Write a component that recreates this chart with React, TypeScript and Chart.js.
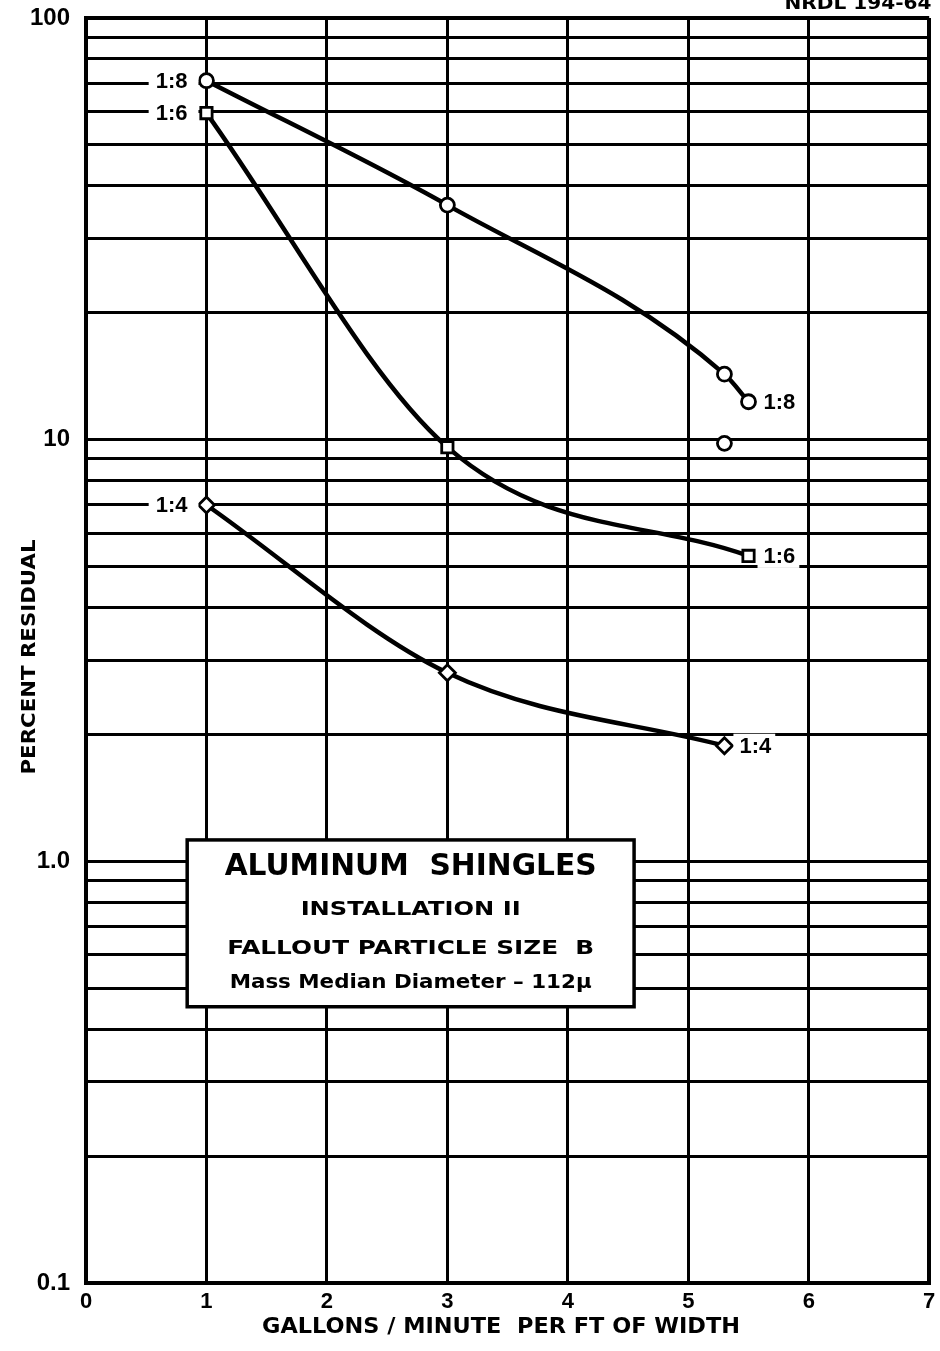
import React, { useEffect, useRef } from "react";
import { Chart, registerables } from "chart.js";

Chart.register(...registerables);

// ---------- data ----------
const xTickValues = [0, 1, 2, 3, 4, 5, 6, 7];
const yTickValues = [
  0.1, 0.2, 0.3, 0.4, 0.5, 0.6, 0.7, 0.8, 0.9,
  1, 2, 3, 4, 5, 6, 7, 8, 9,
  10, 20, 30, 40, 50, 60, 70, 80, 90, 100,
];
const yTickLabels: Record<string, string> = { "0.1": "0.1", "1": "1.0", "10": "10", "100": "100" };

const flow18 = [1, 3, 5.3, 5.5];
const residual18 = [71, 36, 14.3, 12.3];
const flow18Extra = [5.3];
const residual18Extra = [9.8];
const flow16 = [1, 3, 5.5];
const residual16 = [59.5, 9.6, 5.3];
const flow14 = [1, 3, 5.3];
const residual14 = [7.0, 2.8, 1.88];

const seriesNames = ["1:8", "1:6", "1:4"];

const titleLines = [
  "ALUMINUM  SHINGLES",
  "INSTALLATION II",
  "FALLOUT PARTICLE SIZE  B",
  "Mass Median Diameter \u2013 112\u03bc",
];
const xAxisTitle = "GALLONS / MINUTE  PER FT OF WIDTH";
const yAxisTitle = "PERCENT RESIDUAL";
const docId = "NRDL 194-64";

// ---------- layout / style ----------
const W = 940;
const H = 1351;
const FONT = '"DejaVu Sans", "Liberation Sans", sans-serif';
const TICKFONT = '"Liberation Sans", "DejaVu Sans", sans-serif';

const stretchText = (
  ctx: CanvasRenderingContext2D,
  text: string,
  cx: number,
  cy: number,
  width: number,
  font: string,
  rotate = 0
) => {
  ctx.save();
  ctx.font = font;
  ctx.textAlign = "center";
  ctx.textBaseline = "middle";
  ctx.fillStyle = "#000";
  const w = ctx.measureText(text).width;
  ctx.translate(cx, cy);
  if (rotate) ctx.rotate(rotate);
  ctx.scale(width / w, 1);
  ctx.fillText(text, 0, 0);
  ctx.restore();
};

const decorPlugin = {
  id: "decor",
  afterDatasetsDraw(chart: any) {
    const ctx: CanvasRenderingContext2D = chart.ctx;
    const labelFont = `bold 22px ${TICKFONT}`;
    chart.data.datasets.forEach((ds: any, i: number) => {
      if (!ds.seriesLabel) return;
      const pts = chart.getDatasetMeta(i).data;
      const first = pts[0];
      const last = pts[pts.length - 1];
      ctx.save();
      ctx.font = labelFont;
      ctx.textBaseline = "middle";
      const tw = ctx.measureText(ds.seriesLabel).width;
      // left label
      const lr = first.x - 19;
      ctx.fillStyle = "#fff";
      ctx.fillRect(lr - tw - 7, first.y - 12, first.x - 8 - (lr - tw - 7), 24);
      ctx.fillStyle = "#000";
      ctx.textAlign = "right";
      ctx.fillText(ds.seriesLabel, lr, first.y + 1);
      // right label
      const ll = last.x + 15;
      ctx.fillStyle = "#fff";
      ctx.fillRect(last.x + 9, last.y - 12, tw + 10, 24);
      ctx.fillStyle = "#000";
      ctx.textAlign = "left";
      ctx.fillText(ds.seriesLabel, ll, last.y + 1);
      ctx.restore();
    });
  },
  afterDraw(chart: any) {
    const ctx: CanvasRenderingContext2D = chart.ctx;
    const xs = chart.scales.x;
    const ys = chart.scales.y;
    const area = chart.chartArea;

    // title box
    const bl = xs.getPixelForValue(0.84);
    const br = xs.getPixelForValue(4.55);
    const bt = ys.getPixelForValue(1.124);
    const bb = ys.getPixelForValue(0.452);
    ctx.save();
    ctx.fillStyle = "#fff";
    ctx.fillRect(bl, bt, br - bl, bb - bt);
    ctx.strokeStyle = "#000";
    ctx.lineWidth = 3.5;
    ctx.strokeRect(bl, bt, br - bl, bb - bt);
    ctx.restore();
    const cx = (bl + br) / 2;
    const bh = bb - bt;
    stretchText(ctx, titleLines[0], cx, bt + bh * 0.16, 372, `bold 31px ${FONT}`);
    stretchText(ctx, titleLines[1], cx, bt + bh * 0.42, 220, `bold 20px ${FONT}`);
    stretchText(ctx, titleLines[2], cx, bt + bh * 0.65, 367, `bold 20px ${FONT}`);
    stretchText(ctx, titleLines[3], cx, bt + bh * 0.86, 362, `bold 19px ${FONT}`);

    // axis titles
    stretchText(ctx, xAxisTitle, 501, area.bottom + 44, 478, `bold 22px ${FONT}`);
    stretchText(ctx, yAxisTitle, 30, 657, 235, `bold 20px ${FONT}`, -Math.PI / 2);

    // document id
    stretchText(ctx, docId, 858, 5, 147, `bold 17px ${FONT}`);
  },
};

export default function App() {
  const canvasRef = useRef<HTMLCanvasElement | null>(null);

  useEffect(() => {
    if (!canvasRef.current) return;
    const lineCommon = {
      borderColor: "#000",
      borderWidth: 4.5,
      pointBorderColor: "#000",
      pointBackgroundColor: "#fff",
      pointBorderWidth: 2.8,
      cubicInterpolationMode: "monotone" as const,
    };
    const chart = new Chart(canvasRef.current, {
      type: "line",
      data: {
        datasets: [
          {
            ...lineCommon,
            label: seriesNames[0],
            seriesLabel: seriesNames[0],
            data: flow18.map((x, i) => ({ x, y: residual18[i] })),
            pointStyle: "circle",
            pointRadius: 7,
          } as any,
          {
            ...lineCommon,
            label: seriesNames[0] + " (repeat)",
            data: flow18Extra.map((x, i) => ({ x, y: residual18Extra[i] })),
            showLine: false,
            pointStyle: "circle",
            pointRadius: 7,
          } as any,
          {
            ...lineCommon,
            label: seriesNames[1],
            seriesLabel: seriesNames[1],
            data: flow16.map((x, i) => ({ x, y: residual16[i] })),
            pointStyle: "rect",
            pointRadius: 8,
          } as any,
          {
            ...lineCommon,
            label: seriesNames[2],
            seriesLabel: seriesNames[2],
            data: flow14.map((x, i) => ({ x, y: residual14[i] })),
            pointStyle: "rectRot",
            pointRadius: 8,
          } as any,
        ],
      },
      options: {
        animation: false,
        responsive: false,
        devicePixelRatio: 1,
        layout: { padding: { left: 0, top: 18, right: 10, bottom: 0 } },
        plugins: {
          legend: { display: false },
          tooltip: { enabled: false },
        },
        scales: {
          x: {
            type: "linear",
            min: 0,
            max: 7,
            afterBuildTicks: (scale: any) => {
              scale.ticks = xTickValues.map((v) => ({ value: v }));
            },
            afterFit: (scale: any) => {
              scale.height = 68;
              scale.paddingLeft = 0;
              scale.paddingRight = 0;
            },
            ticks: {
              autoSkip: false,
              maxRotation: 0,
              padding: 6,
              color: "#000",
              font: { family: TICKFONT, size: 22, weight: "bold" },
              callback: (v: any) => String(v),
            },
            grid: {
              color: "#000",
              lineWidth: (c: any) => (c.tick && (c.tick.value === 0 || c.tick.value === 7) ? 4 : 3),
              drawTicks: false,
            },
            border: { display: true, color: "#000", width: 4 },
          },
          y: {
            type: "logarithmic",
            min: 0.1,
            max: 100,
            afterBuildTicks: (scale: any) => {
              scale.ticks = yTickValues.map((v) => ({ value: v }));
            },
            afterFit: (scale: any) => {
              scale.width = 86;
              scale.paddingTop = 0;
              scale.paddingBottom = 0;
            },
            ticks: {
              autoSkip: false,
              padding: 16,
              color: "#000",
              font: { family: TICKFONT, size: 24, weight: "bold" },
              callback: (v: any) => yTickLabels[String(v)] ?? "",
            },
            grid: {
              color: "#000",
              lineWidth: (c: any) => (c.tick && (c.tick.value === 100 || c.tick.value === 0.1) ? 4 : 3),
              drawTicks: false,
            },
            border: { display: true, color: "#000", width: 4 },
          },
        },
      },
      plugins: [decorPlugin],
    } as any);
    return () => chart.destroy();
  }, []);

  return (
    <div style={{ position: "fixed", left: 0, top: 0, width: W, height: H, background: "#fff" }}>
      <canvas ref={canvasRef} width={W} height={H} style={{ display: "block", width: W, height: H }} />
    </div>
  );
}
